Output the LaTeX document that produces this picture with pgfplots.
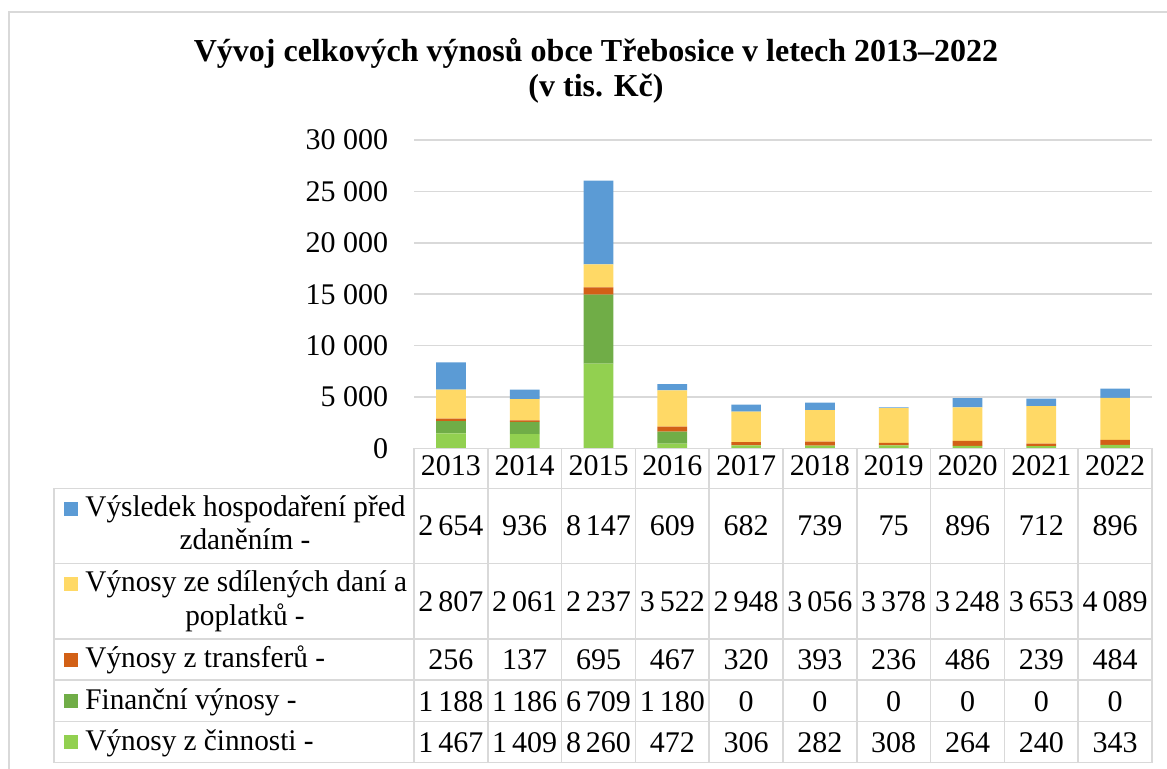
\documentclass[border=0pt]{standalone}
\usepackage{fontspec}
\setmainfont{Liberation Serif}
\newfontfamily\lbl{Liberation Serif}[FakeStretch=0.975]
\usepackage{pgfplots}
\usepackage{pgfplotstable}
\pgfplotsset{compat=1.18}

\definecolor{cBlue}{RGB}{91,155,213}
\definecolor{cYellow}{RGB}{255,217,102}
\definecolor{cOrange}{RGB}{210,96,22}
\definecolor{cGreen}{RGB}{112,173,71}
\definecolor{cLime}{RGB}{146,208,80}
\definecolor{cGrid}{RGB}{217,217,217}

% x = year index (2013 = 0)
\pgfplotstableread{
x cin  fin  tra sdi  vys
0 1467 1188 256 2807 2654
1 1409 1186 137 2061 936
2 8260 6709 695 2237 8147
3 472  1180 467 3522 609
4 306  0    320 2948 682
5 282  0    393 3056 739
6 308  0    236 3378 75
7 264  0    486 3248 896
8 240  0    239 3653 712
9 343  0    484 4089 896
}\data

\newcommand{\ts}{\hspace{2.5pt}}

\begin{document}
\fontsize{15}{16.5}\selectfont
\begin{tikzpicture}[x=0.5pt,y=-0.5pt]
\useasboundingbox (0,0) rectangle (1167,769);
\draw[cGrid,line width=1pt] (9,769) -- (9,12) -- (1167,12);

\node[anchor=base,font=\fontsize{16}{18}\bfseries] at (596,62) {Vývoj celkových výnosů obce Třebosice v letech 2013–2022};
\node[anchor=base,font=\fontsize{16}{18}\bfseries] at (596,97) {(v tis. Kč)};

\coordinate (A) at (414,448.5);
\begin{axis}[
  at={(A)}, anchor=south west,
  scale only axis, width=369pt, height=154.25pt,
  xmin=-0.5, xmax=9.5, ymin=0, ymax=30000,
  ybar stacked, bar width=14.85pt,
  axis line style={draw=none},
  xtick=\empty,
  scaled y ticks=false,
  ytick={0,5000,10000,15000,20000,25000,30000},
  yticklabels={0,5 000,10 000,15 000,20 000,25 000,30 000},
  yticklabel style={inner sep=0pt, xshift=-12.8pt},
  major tick length=0pt,
  ymajorgrids,
  grid style={cGrid, line width=0.75pt},
]
\addplot[fill=cLime,draw=none] table[x=x,y=cin]{\data};
\addplot[fill=cGreen,draw=none] table[x=x,y=fin]{\data};
\addplot[fill=cOrange,draw=none] table[x=x,y=tra]{\data};
\addplot[fill=cYellow,draw=none] table[x=x,y=sdi]{\data};
\addplot[fill=cBlue,draw=none] table[x=x,y=vys]{\data};
\end{axis}

% data table grid
\begin{scope}[cGrid,line width=0.75pt]
\draw (414,448.5) -- (1152,448.5);
\foreach \yy in {488.3,563.3,639,680,721.7,762.7} \draw (54,\yy) -- (1152,\yy);
\draw (54,488.3) -- (54,762.7);
\foreach \k in {0,...,10} \draw ({414+73.8*\k},448.5) -- ({414+73.8*\k},762.7);
\end{scope}

\foreach \v [count=\i from 0] in {2013,2014,2015,2016,2017,2018,2019,2020,2021,2022}
  \node[anchor=base] at ({450.9+73.8*\i},476) {\v};
\foreach \v [count=\i from 0] in {2\ts654,936,8\ts147,609,682,739,75,896,712,896}
  \node[anchor=base] at ({450.9+73.8*\i},536) {\v};
\foreach \v [count=\i from 0] in {2\ts807,2\ts061,2\ts237,3\ts522,2\ts948,3\ts056,3\ts378,3\ts248,3\ts653,4\ts089}
  \node[anchor=base] at ({450.9+73.8*\i},611) {\v};
\foreach \v [count=\i from 0] in {256,137,695,467,320,393,236,486,239,484}
  \node[anchor=base] at ({450.9+73.8*\i},669) {\v};
\foreach \v [count=\i from 0] in {1\ts188,1\ts186,6\ts709,1\ts180,0,0,0,0,0,0}
  \node[anchor=base] at ({450.9+73.8*\i},711) {\v};
\foreach \v [count=\i from 0] in {1\ts467,1\ts409,8\ts260,472,306,282,308,264,240,343}
  \node[anchor=base] at ({450.9+73.8*\i},752) {\v};

% row labels with legend keys
\begin{scope}[every node/.style={inner sep=0pt,font=\lbl}]
\fill[cBlue]   (64,502) rectangle (78,516);
\node[anchor=base west] at (85,517) {Výsledek hospodaření před};
\node[anchor=base] at (245,550) {zdaněním -};
\fill[cYellow] (64,577) rectangle (78,591);
\node[anchor=base west] at (85,592) {Výnosy ze sdílených daní a};
\node[anchor=base] at (245,625) {poplatků -};
\fill[cOrange] (64,653) rectangle (78,667);
\node[anchor=base west] at (85,668) {Výnosy z transferů -};
\fill[cGreen]  (64,694) rectangle (78,708);
\node[anchor=base west] at (85,709) {Finanční výnosy -};
\fill[cLime]   (64,735) rectangle (78,749);
\node[anchor=base west] at (85,750) {Výnosy z činnosti -};
\end{scope}
\end{tikzpicture}
\end{document}
